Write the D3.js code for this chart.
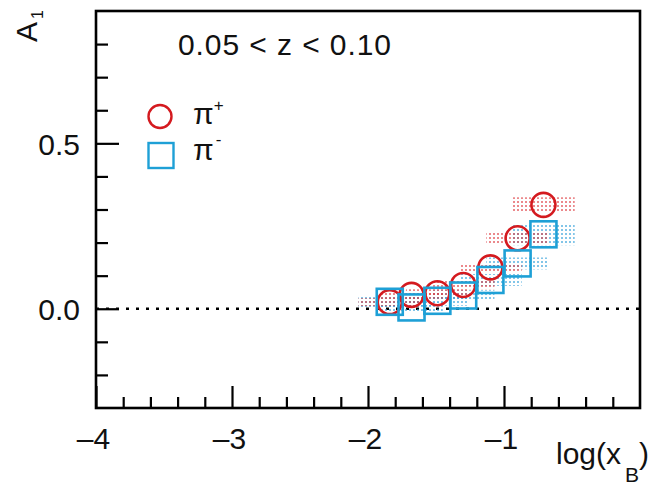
<!DOCTYPE html>
<html>
<head>
<meta charset="utf-8">
<script src="https://cdn.jsdelivr.net/npm/d3@7"></script>
<style>
  body { margin: 0; background: #fff; }
  svg text { font-family: "Liberation Sans", Arial, Helvetica, sans-serif; fill: #111; }
</style>
</head>
<body>
<svg id="chart" width="651" height="486"></svg>
<script>
// bin centres in log(x_B), same for both pion charges
const logxB = [-1.84, -1.68, -1.49, -1.30, -1.10, -0.90, -0.71];

// A1 for pi+ and pi-
const a1PiPlus  = [0.020, 0.042, 0.047, 0.072, 0.125, 0.213, 0.314];
const a1PiMinus = [0.021, 0.004, 0.024, 0.040, 0.087, 0.137, 0.225];

// systematic uncertainty (half height of the shaded boxes)
const sysPiPlus  = [0.012, 0.012, 0.012, 0.013, 0.013, 0.020, 0.023];
const sysPiMinus = [0.018, 0.015, 0.015, 0.016, 0.018, 0.018, 0.033];

const xMajor = [-4, -3, -2, -1];
const yMajor = [0, 0.5];
const yLabels = ["0.0", "0.5"];

function drawChart() {
    var svg = d3.select("#chart");
    var left = 96, right = 640, top = 11, bottom = 408;

    var x = d3.scaleLinear().domain([-4, 0]).range([left, right]);
    var y = d3.scaleLinear().domain([-0.3, 0.9]).range([bottom, top]);

    var red = "#d41a1f", blue = "#1ea0d6";

    // dotted fill patterns for the systematic boxes
    var defs = svg.append("defs");
    [["dotRed", "#de3a40"], ["dotBlue", "#2e9fd8"]].forEach(function(p) {
        var pat = defs.append("pattern")
            .attr("id", p[0])
            .attr("patternUnits", "userSpaceOnUse")
            .attr("width", 4).attr("height", 4);
        pat.append("rect").attr("x", 1).attr("y", 1).attr("width", 2).attr("height", 2)
            .attr("fill", p[1]).attr("opacity", 0.6);
    });

    // zero line
    svg.append("line")
        .attr("x1", x(-4)).attr("x2", x(0))
        .attr("y1", y(0)).attr("y2", y(0))
        .attr("stroke", "#000").attr("stroke-width", 2.6)
        .attr("stroke-dasharray", "3,7");

    // systematic boxes
    var halfW = 0.23;
    var sysBlue = logxB.map(function(v, i) { return {x: v, y: a1PiMinus[i], s: sysPiMinus[i]}; });
    var sysRed = logxB.map(function(v, i) { return {x: v, y: a1PiPlus[i], s: sysPiPlus[i]}; });

    svg.append("g").selectAll("rect").data(sysBlue).enter().append("rect")
        .attr("x", function(d) { return x(d.x - halfW); })
        .attr("width", function(d) { return x(d.x + halfW) - x(d.x - halfW); })
        .attr("y", function(d) { return y(d.y + d.s); })
        .attr("height", function(d) { return y(d.y - d.s) - y(d.y + d.s); })
        .attr("fill", "url(#dotBlue)");

    svg.append("g").selectAll("rect").data(sysRed).enter().append("rect")
        .attr("x", function(d) { return x(d.x - halfW); })
        .attr("width", function(d) { return x(d.x + halfW) - x(d.x - halfW); })
        .attr("y", function(d) { return y(d.y + d.s); })
        .attr("height", function(d) { return y(d.y - d.s) - y(d.y + d.s); })
        .attr("fill", "url(#dotRed)");

    // markers
    svg.append("g").selectAll("circle").data(sysRed).enter().append("circle")
        .attr("cx", function(d) { return x(d.x); })
        .attr("cy", function(d) { return y(d.y); })
        .attr("r", 12)
        .attr("fill", "none").attr("stroke", red).attr("stroke-width", 2.6);

    var side = 26;
    svg.append("g").selectAll("rect").data(sysBlue).enter().append("rect")
        .attr("x", function(d) { return x(d.x) - side / 2; })
        .attr("y", function(d) { return y(d.y) - side / 2; })
        .attr("width", side).attr("height", side)
        .attr("fill", "none").attr("stroke", blue).attr("stroke-width", 2.6);

    // frame
    svg.append("rect")
        .attr("x", left).attr("y", top)
        .attr("width", right - left).attr("height", bottom - top)
        .attr("fill", "none").attr("stroke", "#000").attr("stroke-width", 2.6);

    // x axis: ticks pointing inwards
    var xMinor = d3.range(-4, 0.001, 0.2).filter(function(v) { return Math.abs(v - Math.round(v)) > 0.01; });
    var xAxisMinor = d3.axisBottom(x).tickValues(xMinor).tickSizeInner(-11).tickSizeOuter(0).tickFormat("");
    var xAxisMajor = d3.axisBottom(x).tickValues(xMajor).tickSizeInner(-22).tickSizeOuter(0)
        .tickPadding(40).tickFormat(function(d) { return "\u2013" + Math.abs(d); });

    var gx1 = svg.append("g").attr("transform", "translate(0," + bottom + ")").call(xAxisMinor);
    var gx2 = svg.append("g").attr("transform", "translate(0," + bottom + ")").call(xAxisMajor);
    [gx1, gx2].forEach(function(g) {
        g.select(".domain").remove();
        g.selectAll("line").attr("stroke", "#000").attr("stroke-width", 2.2);
    });
    gx2.selectAll("text").attr("font-size", 30).attr("dy", 0).attr("y", 41)
        .attr("dx", -3);

    // y axis
    var yMinor = d3.range(-0.2, 0.85, 0.1).filter(function(v) {
        return Math.abs(v) > 0.01 && Math.abs(v - 0.5) > 0.01;
    });
    var yAxisMinor = d3.axisLeft(y).tickValues(yMinor).tickSizeInner(-12).tickSizeOuter(0).tickFormat("");
    var yAxisMajor = d3.axisLeft(y).tickValues(yMajor).tickSizeInner(-23).tickSizeOuter(0)
        .tickPadding(16).tickFormat(function(d, i) { return yLabels[i]; });

    var gy1 = svg.append("g").attr("transform", "translate(" + left + ",0)").call(yAxisMinor);
    var gy2 = svg.append("g").attr("transform", "translate(" + left + ",0)").call(yAxisMajor);
    [gy1, gy2].forEach(function(g) {
        g.select(".domain").remove();
        g.selectAll("line").attr("stroke", "#000").attr("stroke-width", 2.2);
    });
    gy2.selectAll("text").attr("font-size", 30).attr("x", -16).attr("dy", "0.36em");

    // axis titles
    var xt = svg.append("text").attr("x", 556).attr("y", 464).attr("font-size", 30);
    xt.append("tspan").text("log(x");
    xt.append("tspan").attr("font-size", 21).attr("dx", 4).attr("dy", 18).text("B");
    xt.append("tspan").attr("dy", -18).text(")");

    var yt = svg.append("text")
        .attr("transform", "translate(37,10) rotate(-90)")
        .attr("text-anchor", "end").attr("font-size", 30);
    yt.append("tspan").text("A");
    yt.append("tspan").attr("font-size", 16).attr("dx", 3).attr("dy", 6).text("1");

    // kinematic bin label
    svg.append("text").attr("x", 178).attr("y", 55).attr("font-size", 30)
        .attr("textLength", 213).text("0.05 < z < 0.10");

    // legend
    svg.append("circle").attr("cx", 160).attr("cy", 116.5).attr("r", 11.5)
        .attr("fill", "none").attr("stroke", red).attr("stroke-width", 2.4);
    svg.append("rect").attr("x", 148.5).attr("y", 143).attr("width", 25).attr("height", 25)
        .attr("fill", "none").attr("stroke", blue).attr("stroke-width", 2.4);

    var l1 = svg.append("text").attr("x", 193).attr("y", 124).attr("font-size", 30);
    l1.append("tspan").text("\u03c0");
    l1.append("tspan").attr("font-size", 17).attr("dy", -13).text("+");
    var l2 = svg.append("text").attr("x", 193).attr("y", 160).attr("font-size", 30);
    l2.append("tspan").text("\u03c0");
    l2.append("tspan").attr("font-size", 17).attr("dx", 2).attr("dy", -15).text("-");
}

drawChart();
</script>
</body>
</html>
